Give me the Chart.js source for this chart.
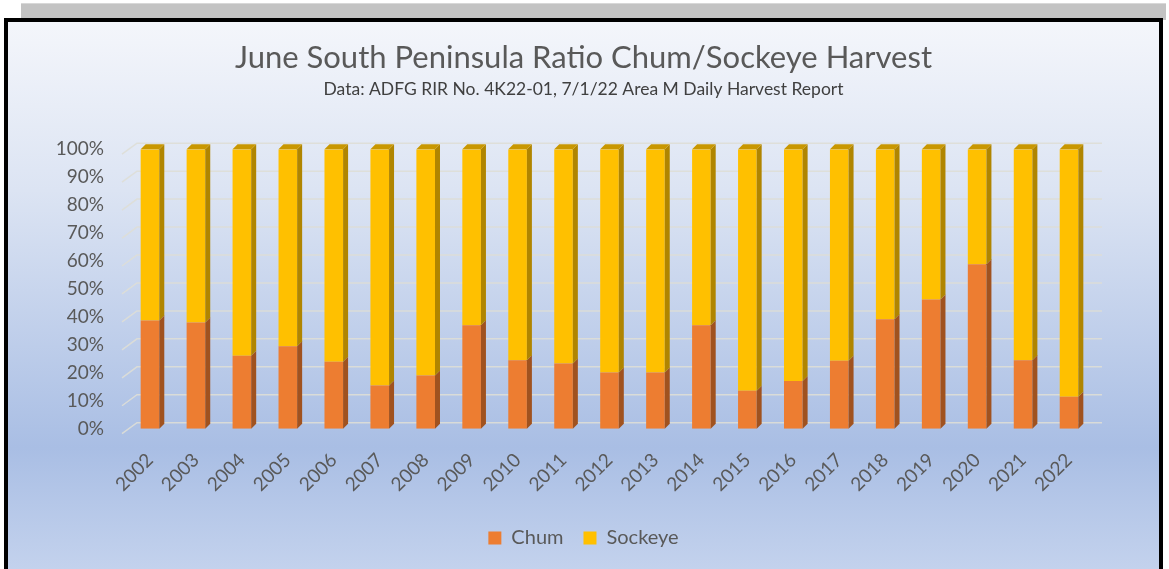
<!DOCTYPE html>
<html>
<head>
<meta charset="utf-8">
<script src="https://cdn.jsdelivr.net/npm/chart.js@4"></script>
<style>
  html, body { margin: 0; padding: 0; background: #fff; width: 1169px; height: 569px; overflow: hidden; }
  .strip {
    position: absolute; left: 21px; top: 3px; width: 1145px; height: 16px;
    background: #c3c3c3; border-top: 1px solid #d8d8d8;
  }
  .frame {
    position: absolute; left: 4px; top: 18px; width: 1151px; height: 560px;
    border: 4px solid #000;
    background: linear-gradient(to bottom, #f4f6fb 0%, #dce4f3 30%, #a9bee4 76%, #c6d4ee 100%);
  }
  canvas { position: absolute; left: 0; top: 0; }
</style>
</head>
<body>
<div class="strip"></div>
<div class="frame">
  <canvas id="chart" width="1151" height="547"></canvas>
</div>
<script>
const years = ["2002", "2003", "2004", "2005", "2006", "2007", "2008", "2009", "2010", "2011", "2012",
  "2013", "2014", "2015", "2016", "2017", "2018", "2019", "2020", "2021", "2022"]
const chum = [38.7, 38.0, 26.1, 29.5, 24.0, 15.5, 19.0, 37.0, 24.5, 23.3, 20.1,
  20.1, 37.0, 13.6, 17.1, 24.3, 39.2, 46.2, 58.8, 24.5, 11.4]
const sockeye = [61.3, 62.0, 73.9, 70.5, 76.0, 84.5, 81.0, 63.0, 75.5, 76.7, 79.9,
  79.9, 63.0, 86.4, 82.9, 75.7, 60.8, 53.8, 41.2, 75.5, 88.6]
const yTicks = [0, 10, 20, 30, 40, 50, 60, 70, 80, 90, 100]

const textColor = "#595959"
const fontFamily = "Lato, 'Open Sans', sans-serif"

// sides and tops of the bars, to look like Excel's 3D columns
const sideColors = ["#a0521f", "#b08500"]
const topColor = "#c99700"
const depth = 5

const backWall = {
  id: "backWall",
  beforeDatasetsDraw(chart) {
    const { ctx, chartArea } = chart
    const y = chart.scales.y
    ctx.save()
    ctx.strokeStyle = "rgba(222, 222, 214, 0.9)"
    ctx.lineWidth = 1.5
    yTicks.forEach((t) => {
      const py = y.getPixelForValue(t)
      ctx.beginPath()
      ctx.moveTo(chartArea.left - 5, py + 5)
      ctx.lineTo(chartArea.left + 10, py - 6)
      ctx.lineTo(chartArea.right + 10, py - 6)
      ctx.stroke()
    })
    ctx.restore()
  },
  afterDatasetsDraw(chart) {
    const { ctx } = chart
    const last = chart.data.datasets.length - 1
    ctx.save()
    chart.data.datasets.forEach((ds, i) => {
      chart.getDatasetMeta(i).data.forEach((bar) => {
        const right = bar.x + bar.width / 2
        const left = bar.x - bar.width / 2
        const top = Math.min(bar.y, bar.base)
        const bottom = Math.max(bar.y, bar.base)
        ctx.fillStyle = sideColors[i]
        ctx.beginPath()
        ctx.moveTo(right, top)
        ctx.lineTo(right + depth, top - depth)
        ctx.lineTo(right + depth, bottom - depth)
        ctx.lineTo(right, bottom)
        ctx.closePath()
        ctx.fill()
        if (i === last) {
          ctx.fillStyle = topColor
          ctx.beginPath()
          ctx.moveTo(left, top)
          ctx.lineTo(left + depth, top - depth)
          ctx.lineTo(right + depth, top - depth)
          ctx.lineTo(right, top)
          ctx.closePath()
          ctx.fill()
        }
      })
    })
    ctx.restore()
  },
}

new Chart(document.getElementById("chart"), {
  type: "bar",
  data: {
    labels: years,
    datasets: [
      {
        label: "Chum",
        data: chum,
        backgroundColor: "#ed7d31",
        categoryPercentage: 1,
        barPercentage: 0.405,
      },
      {
        label: "Sockeye",
        data: sockeye,
        backgroundColor: "#ffc000",
        categoryPercentage: 1,
        barPercentage: 0.405,
      },
    ],
  },
  options: {
    responsive: false,
    animation: false,
    layout: {
      padding: { left: 0, right: 0, top: 0, bottom: 11 },
    },
    plugins: {
      title: {
        display: true,
        text: "June South Peninsula Ratio Chum/Sockeye Harvest",
        color: textColor,
        font: { family: fontFamily, size: 31, weight: "normal" },
        padding: { top: 17, bottom: 3 },
      },
      subtitle: {
        display: true,
        text: "Data: ADFG RIR No. 4K22-01, 7/1/22 Area M Daily Harvest Report",
        color: "#404040",
        font: { family: fontFamily, size: 17.5 },
        padding: { top: 0, bottom: 49 },
      },
      legend: {
        position: "bottom",
        labels: {
          color: textColor,
          font: { family: fontFamily, size: 20 },
          boxWidth: 13,
          boxHeight: 13,
          padding: 20,
        },
      },
      tooltip: { enabled: false },
    },
    scales: {
      x: {
        stacked: true,
        grid: { display: false },
        border: { display: false },
        ticks: {
          color: textColor,
          font: { family: fontFamily, size: 19 },
          minRotation: 45,
          maxRotation: 45,
          padding: 12,
        },
      },
      y: {
        stacked: true,
        min: 0,
        max: 100,
        grid: { display: false, drawTicks: false },
        border: { display: false },
        afterFit: (scale) => { scale.width = 119 },
        ticks: {
          stepSize: 10,
          color: textColor,
          font: { family: fontFamily, size: 19 },
          padding: 23,
          callback: (v) => v + "%",
        },
      },
      // empty right-hand space, kept out of the layout padding so the title stays centred
      spacer: {
        position: "right",
        min: 0,
        max: 1,
        grid: { display: false },
        border: { display: false },
        ticks: { display: false },
        afterFit: (scale) => { scale.width = 67 },
      },
    },
  },
  plugins: [backWall],
})
</script>
</body>
</html>
